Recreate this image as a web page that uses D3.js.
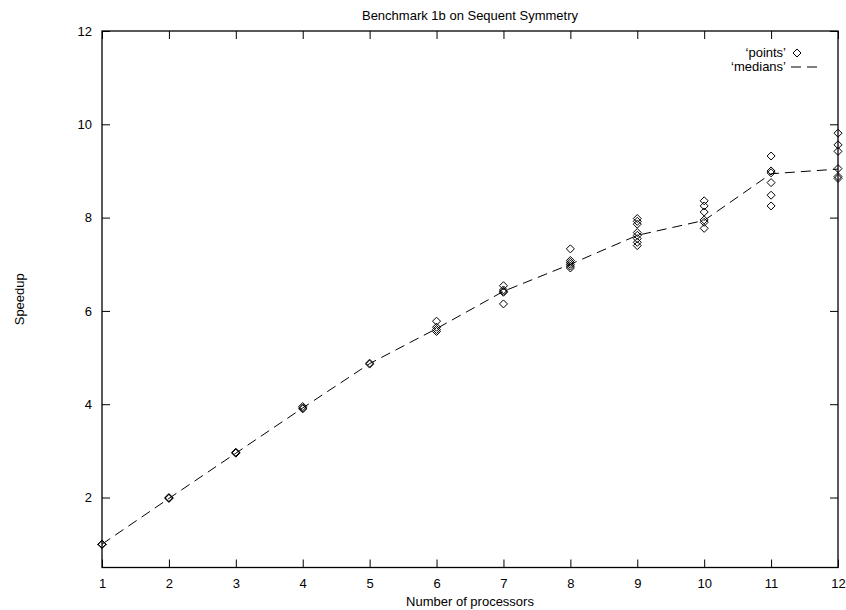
<!DOCTYPE html>
<html>
<head>
<meta charset="utf-8">
<script src="https://cdn.jsdelivr.net/npm/d3@7"></script>
<style>
  body { margin: 0; background: #fff; }
  text { font-family: "Liberation Sans", Arial, Helvetica, sans-serif; }
</style>
</head>
<body>
<div id="chart"></div>
<script>
// processors on the x axis
const processors = [1, 2, 3, 4, 5, 6, 7, 8, 9, 10, 11, 12];
// median speedup per processor count
const medians = [1.0, 1.98, 2.95, 3.92, 4.87, 5.62, 6.42, 7.0, 7.62, 7.94, 8.94, 9.04];
// individual runs, one list per processor count
const points = [
  [1.0, 1.0, 1.0, 1.0, 1.0],
  [2.0, 1.98, 1.99],
  [2.95, 2.96, 2.97],
  [3.9, 3.92, 3.95],
  [4.86, 4.88],
  [5.78, 5.65, 5.6, 5.56],
  [6.54, 6.45, 6.42, 6.4, 6.15],
  [7.33, 7.08, 7.04, 7.0, 6.96, 6.92],
  [7.98, 7.92, 7.86, 7.68, 7.62, 7.55, 7.47, 7.4],
  [8.36, 8.25, 8.12, 7.95, 7.9, 7.77],
  [9.32, 9.0, 8.96, 8.75, 8.48, 8.25],
  [9.81, 9.56, 9.42, 9.05, 8.88, 8.84]
];
const yTicks = [2, 4, 6, 8, 10, 12];

const width = 846, height = 610;
const plotLeft = 102, plotRight = 838, plotTop = 31, plotBottom = 567.5;

const svg = d3.select("#chart").append("svg")
  .attr("width", width)
  .attr("height", height);

const x = d3.scaleLinear().domain([1, 12]).range([plotLeft, plotRight]);
const y = d3.scaleLinear().domain([0.5, 12]).range([plotBottom, plotTop]);

// axes with inward ticks, mirrored on top/right like gnuplot
const styleAxis = g => {
  g.select(".domain").remove();
  g.selectAll(".tick line").attr("stroke", "#000");
  g.selectAll(".tick text").attr("fill", "#000").attr("font-size", "13px");
};

svg.append("g")
  .attr("transform", `translate(0,${plotBottom})`)
  .call(d3.axisBottom(x).tickValues(processors).tickSizeInner(-8).tickSizeOuter(0).tickPadding(11))
  .call(styleAxis);

svg.append("g")
  .attr("transform", `translate(0,${plotTop})`)
  .call(d3.axisTop(x).tickValues(processors).tickSizeInner(-8).tickSizeOuter(0).tickFormat(""))
  .call(styleAxis);

svg.append("g")
  .attr("transform", `translate(${plotLeft},0)`)
  .call(d3.axisLeft(y).tickValues(yTicks).tickSizeInner(-8).tickSizeOuter(0).tickPadding(10))
  .call(styleAxis);

svg.append("g")
  .attr("transform", `translate(${plotRight},0)`)
  .call(d3.axisRight(y).tickValues(yTicks).tickSizeInner(-8).tickSizeOuter(0).tickFormat(""))
  .call(styleAxis);

svg.append("rect")
  .attr("x", plotLeft).attr("y", plotTop)
  .attr("width", plotRight - plotLeft).attr("height", plotBottom - plotTop)
  .attr("fill", "none").attr("stroke", "#000").attr("stroke-width", 1.3);

// medians line
const line = d3.line().x((d, i) => x(processors[i])).y(d => y(d));
svg.append("path")
  .datum(medians)
  .attr("d", line)
  .attr("fill", "none")
  .attr("stroke", "#000")
  .attr("stroke-width", 1)
  .attr("stroke-dasharray", "10,6");

// diamonds
const diamond = (cx, cy, r) => `M${cx},${cy - r}L${cx + r},${cy}L${cx},${cy + r}L${cx - r},${cy}Z`;
const flat = [];
points.forEach((list, i) => list.forEach(v => flat.push({ p: processors[i], v: v })));

svg.append("g").selectAll("path")
  .data(flat)
  .enter().append("path")
  .attr("d", d => diamond(x(d.p), y(d.v), 4))
  .attr("fill", "none")
  .attr("stroke", "#000")
  .attr("stroke-width", 1);

// title and axis labels
svg.append("text")
  .attr("x", (plotLeft + plotRight) / 2).attr("y", 20)
  .attr("text-anchor", "middle").attr("font-size", "13px")
  .text("Benchmark 1b on Sequent Symmetry");

svg.append("text")
  .attr("x", (plotLeft + plotRight) / 2).attr("y", 606)
  .attr("text-anchor", "middle").attr("font-size", "13px")
  .text("Number of processors");

svg.append("text")
  .attr("transform", `translate(24,${(plotTop + plotBottom) / 2}) rotate(-90)`)
  .attr("text-anchor", "middle").attr("font-size", "13px")
  .text("Speedup");

// legend
svg.append("text")
  .attr("x", 786).attr("y", 57)
  .attr("text-anchor", "end").attr("font-size", "13px")
  .text("\u2018points\u2019");
svg.append("path")
  .attr("d", diamond(797, 53, 4))
  .attr("fill", "none").attr("stroke", "#000");

svg.append("text")
  .attr("x", 786).attr("y", 71)
  .attr("text-anchor", "end").attr("font-size", "13px")
  .text("\u2018medians\u2019");
svg.append("line")
  .attr("x1", 791).attr("x2", 823).attr("y1", 67).attr("y2", 67)
  .attr("stroke", "#000").attr("stroke-dasharray", "10,6");
</script>
</body>
</html>
